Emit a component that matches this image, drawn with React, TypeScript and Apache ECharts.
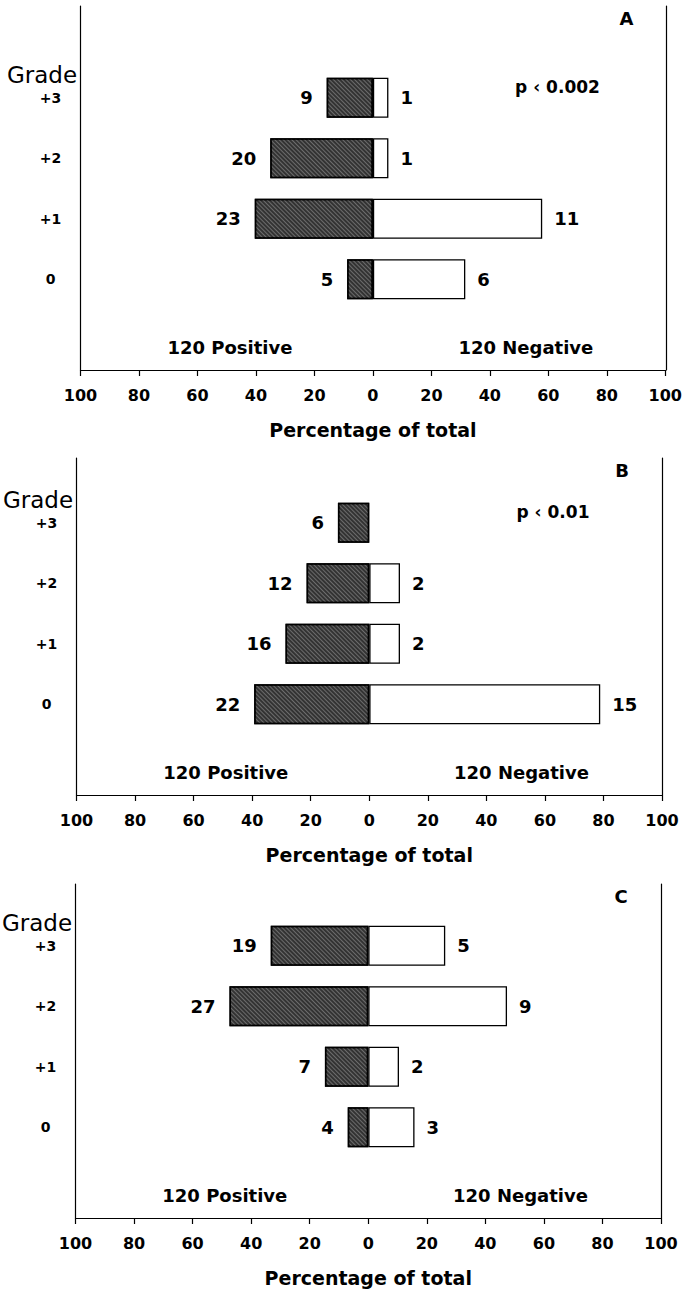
import React, { useEffect, useRef } from 'react';
import * as echarts from 'echarts';

const FONT = '"DejaVu Sans", "Liberation Sans", Arial, sans-serif';

// Category rows, bottom to top (first and last rows are empty spacer rows)
const categories = ['', '0', '+1', '+2', '+3', ' '];
const panelLetters = ['A', 'B', 'C'];
const pValueLabels = ['p \u2039 0.002', 'p \u2039 0.01', ''];
const groupLabels = ['120 Positive', '120 Negative'];
const xAxisTitle = 'Percentage of total';
const yAxisTitle = 'Grade';
const tickMin = -100;
const tickMax = 100;
const tickStep = 20;

// Grades in order 0, +1, +2, +3
const posCountsA = [5, 23, 20, 9];
const negCountsA = [6, 11, 1, 1];
const posPctA = [8.8, 40.4, 35.1, 15.8];
const negPctA = [31.6, 57.9, 5.3, 5.3];

const posCountsB = [22, 16, 12, 6];
const negCountsB = [15, 2, 2, 0];
const posPctB = [39.3, 28.6, 21.4, 10.7];
const negPctB = [78.9, 10.5, 10.5, 0];

const posCountsC = [4, 7, 27, 19];
const negCountsC = [3, 2, 9, 5];
const posPctC = [7.0, 14.8, 47.4, 33.3];
const negPctC = [15.8, 10.5, 47.4, 26.3];

const panels = [
  { posCounts: posCountsA, negCounts: negCountsA, posPct: posPctA, negPct: negPctA },
  { posCounts: posCountsB, negCounts: negCountsB, posPct: posPctB, negPct: negPctB },
  { posCounts: posCountsC, negCounts: negCountsC, posPct: posPctC, negPct: negPctC },
];

// Layout (pixels)
const LAYOUT = [
  { left: 80.5, width: 586, slotTop: 7, axisY: 370, frameTop: 6 },
  { left: 76.5, width: 585.5, slotTop: 432, axisY: 795, frameTop: 458 },
  { left: 75.5, width: 585.5, slotTop: 855, axisY: 1218, frameTop: 884 },
];
const groupLabelAxisPos = [-49, 52];

export default function App() {
  const ref = useRef<HTMLDivElement>(null);

  useEffect(() => {
    if (!ref.current) return;
    const chart = echarts.init(ref.current, null, { renderer: 'svg' });

    const grid: any[] = [];
    const xAxis: any[] = [];
    const yAxis: any[] = [];
    const series: any[] = [];
    const graphic: any[] = [];

    const textStyleBase = { fill: '#000', fontFamily: FONT };

    panels.forEach((p, i) => {
      const L = LAYOUT[i];
      const h = L.axisY - L.slotTop;
      const slot = h / categories.length;
      grid.push({ left: L.left, top: L.slotTop, width: L.width, height: h });
      grid.push({ left: L.left, top: L.frameTop, width: L.width, height: L.axisY - L.frameTop });

      xAxis.push({
        gridIndex: 2 * i,
        type: 'value',
        min: tickMin,
        max: tickMax,
        interval: tickStep,
        position: 'bottom',
        axisLine: { show: true, onZero: false, lineStyle: { color: '#000', width: 1.2 } },
        axisTick: { show: true, length: 6, lineStyle: { color: '#000', width: 1.2 } },
        axisLabel: {
          margin: 17,
          color: '#000',
          fontFamily: FONT,
          fontSize: 16,
          fontWeight: 'bold',
          formatter: (v: number) => String(Math.abs(v)),
        },
        splitLine: { show: false },
        name: xAxisTitle,
        nameLocation: 'middle',
        nameGap: 50,
        nameTextStyle: { color: '#000', fontFamily: FONT, fontSize: 19, fontWeight: 'bold' },
      });
      xAxis.push({ gridIndex: 2 * i + 1, type: 'value', show: false, min: 0, max: 1 });

      yAxis.push({
        gridIndex: 2 * i,
        type: 'category',
        data: categories,
        axisLine: { show: false },
        axisTick: { show: false },
        splitLine: { show: false },
        axisLabel: {
          interval: 0,
          align: 'center',
          margin: 30,
          color: '#000',
          fontFamily: FONT,
          fontSize: 14,
          fontWeight: 'bold',
        },
      });
      yAxis.push({
        gridIndex: 2 * i + 1,
        type: 'value',
        position: 'left',
        min: 0,
        max: 1,
        axisLine: { show: true, lineStyle: { color: '#000', width: 1.2 } },
        axisTick: { show: false },
        axisLabel: { show: false },
        splitLine: { show: false },
      });
      yAxis.push({
        gridIndex: 2 * i + 1,
        type: 'value',
        position: 'right',
        min: 0,
        max: 1,
        axisLine: { show: true, lineStyle: { color: '#000', width: 1.2 } },
        axisTick: { show: false },
        axisLabel: { show: false },
        splitLine: { show: false },
      });

      const labelStyle = {
        show: true,
        color: '#000',
        fontFamily: FONT,
        fontSize: 18,
        fontWeight: 'bold',
      };

      series.push({
        type: 'bar',
        xAxisIndex: 2 * i,
        yAxisIndex: 3 * i,
        stack: 'panel' + i,
        barWidth: 40,
        data: ['-', ...p.posPct.map((v) => -v), '-'],
        itemStyle: {
          color: '#333333',
          borderColor: '#000',
          borderWidth: 1.5,
          decal: {
            symbol: 'rect',
            symbolSize: 1,
            dashArrayX: [1, 0],
            dashArrayY: [1, 2],
            rotation: Math.PI / 4,
            color: 'rgba(255,255,255,0.28)',
          },
        },
        label: {
          ...labelStyle,
          position: 'left',
          distance: 14,
          formatter: (prm: any) => String(p.posCounts[prm.dataIndex - 1]),
        },
      });
      series.push({
        type: 'bar',
        xAxisIndex: 2 * i,
        yAxisIndex: 3 * i,
        stack: 'panel' + i,
        barWidth: 40,
        data: [
          '-',
          ...p.negPct.map((v, k) =>
            p.negCounts[k] === 0
              ? { value: v, itemStyle: { borderWidth: 0, color: 'transparent' }, label: { show: false } }
              : v
          ),
          '-',
        ],
        itemStyle: { color: '#fff', borderColor: '#000', borderWidth: 1.3 },
        label: {
          ...labelStyle,
          position: 'right',
          distance: 12,
          formatter: (prm: any) => String(p.negCounts[prm.dataIndex - 1]),
        },
      });

      // Annotations
      graphic.push({
        type: 'text',
        x: L.left - 38.5,
        y: L.slotTop + 67.5,
        style: { ...textStyleBase, text: yAxisTitle, fontSize: 23, fontWeight: 'normal', align: 'center', verticalAlign: 'middle' },
      });
      graphic.push({
        type: 'text',
        x: L.left + L.width - 40,
        y: L.frameTop + 12,
        style: { ...textStyleBase, text: panelLetters[i], fontSize: 18, fontWeight: 'bold', align: 'center', verticalAlign: 'middle' },
      });
      if (pValueLabels[i]) {
        graphic.push({
          type: 'text',
          x: L.left + L.width - 109,
          y: L.slotTop + 80,
          style: { ...textStyleBase, text: pValueLabels[i], fontSize: 17, fontWeight: 'bold', align: 'center', verticalAlign: 'middle' },
        });
      }
      groupLabels.forEach((t, g) => {
        graphic.push({
          type: 'text',
          x: L.left + ((groupLabelAxisPos[g] - tickMin) / (tickMax - tickMin)) * L.width,
          y: L.slotTop + slot * 5.5 + 8,
          style: { ...textStyleBase, text: t, fontSize: 18, fontWeight: 'bold', align: 'center', verticalAlign: 'middle' },
        });
      });
    });

    chart.setOption({
      animation: false,
      backgroundColor: '#fff',
      grid,
      xAxis,
      yAxis,
      series,
      graphic,
    });

    return () => {
      chart.dispose();
    };
  }, []);

  return (
    <div
      ref={ref}
      style={{ position: 'absolute', left: 0, top: 0, width: 685, height: 1291, background: '#fff' }}
    />
  );
}
